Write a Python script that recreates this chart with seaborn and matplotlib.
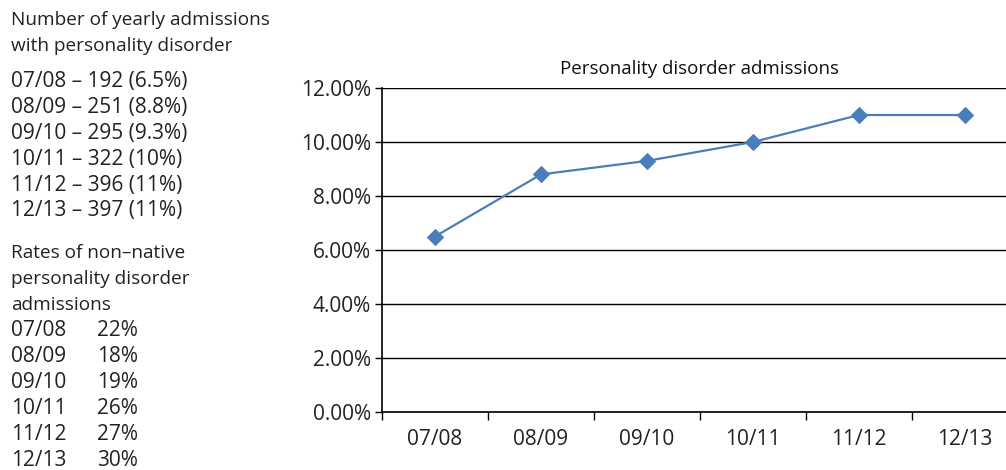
import numpy as np
import pandas as pd
import seaborn as sns
import matplotlib.pyplot as plt
from matplotlib.ticker import FuncFormatter, FixedLocator

# data
years = ["07/08", "08/09", "09/10", "10/11", "11/12", "12/13"]
admissions = [192, 251, 295, 322, 396, 397]
admission_pct_text = ["6.5%", "8.8%", "9.3%", "10%", "11%", "11%"]
pd_rate = [6.5, 8.8, 9.3, 10.0, 11.0, 11.0]
non_native = ["22%", "18%", "19%", "26%", "27%", "30%"]

sns.set_theme(style="white")
plt.rcParams['font.family'] = ['Open Sans', 'DejaVu Sans']

fig = plt.figure(figsize=(10.06, 4.70), dpi=100)
ax = fig.add_axes([382 / 1006, 1 - 412 / 470, 636 / 1006, 324 / 470])

df = pd.DataFrame({"year": years, "rate": pd_rate})
sns.lineplot(data=df, x="year", y="rate", ax=ax, color="#4a7ebb",
             linewidth=1.6, marker="D", markersize=8, markeredgecolor="#4a7ebb")

ax.set_xlim(-0.5, len(years) - 0.5)
ax.set_ylim(0, 12)
ax.set_yticks(np.arange(0, 13, 2))
ax.yaxis.set_major_formatter(FuncFormatter(lambda v, p: f"{v:.2f}%"))
ax.yaxis.grid(True, color="black", linewidth=1.0)
ax.set_axisbelow(True)

# ticks between categories, labels centred
ax.xaxis.set_major_locator(FixedLocator(np.arange(-0.5, len(years), 1.0)))
ax.xaxis.set_major_formatter(FuncFormatter(lambda v, p: ""))
ax.xaxis.set_minor_locator(FixedLocator(np.arange(len(years))))
ax.set_xticklabels(years, minor=True)
ax.tick_params(axis="x", which="major", direction="out", length=6, width=1, color="black", bottom=True)
ax.tick_params(axis="x", which="minor", length=0, labelsize=15, pad=12, colors="#222222")
ax.tick_params(axis="y", which="major", direction="out", length=5, width=1, color="black",
               left=True, labelsize=15, pad=3, colors="#222222")
ax.set_xlabel("")
ax.set_ylabel("")

for s in ["top", "right"]:
    ax.spines[s].set_visible(False)
for s in ["left", "bottom"]:
    ax.spines[s].set_color("black")
    ax.spines[s].set_linewidth(1.2)

ax.set_title("Personality disorder admissions", fontsize=13.5, pad=10, color="#111111")

# side text
def ftxt(x, y, s, size=13.7):
    fig.text(x / 1006, 1 - y / 470, s, fontsize=size, color="#222222", va="center", ha="left")

ftxt(11, 20, "Number of yearly admissions")
ftxt(11, 46, "with personality disorder")
for i, (yr, n, p) in enumerate(zip(years, admissions, admission_pct_text)):
    ftxt(11, 81 + 26 * i, f"{yr} – {n} ({p})", 15)

ftxt(11, 253, "Rates of non–native")
ftxt(11, 279, "personality disorder")
ftxt(11, 305, "admissions")
for i, (yr, r) in enumerate(zip(years, non_native)):
    ftxt(11, 331 + 26 * i, yr, 15)
    ftxt(97, 331 + 26 * i, r, 15)

fig.savefig("out.png", dpi=100)
